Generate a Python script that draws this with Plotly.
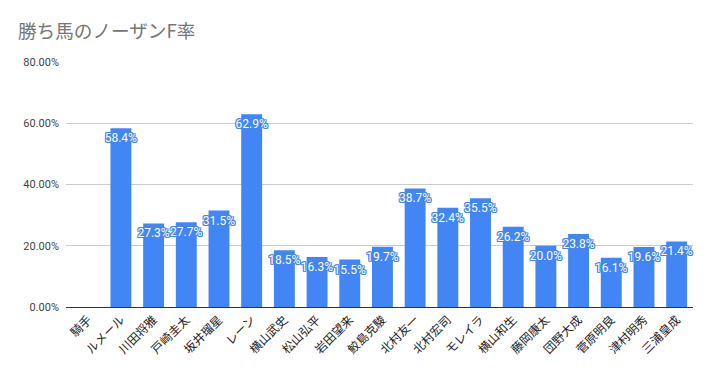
import plotly.graph_objects as go

jockeys = ["騎手", "ルメール", "川田将雅", "戸崎圭太", "坂井瑠星", "レーン", "横山武史", "松山弘平",
           "岩田望来", "鮫島克駿", "北村友一", "北村宏司", "モレイラ", "横山和生", "藤岡康太",
           "団野大成", "菅原明良", "津村明秀", "三浦皇成"]
rates = [None, 0.584, 0.273, 0.277, 0.315, 0.629, 0.185, 0.163, 0.155, 0.197, 0.387, 0.324,
         0.355, 0.262, 0.200, 0.238, 0.161, 0.196, 0.214]
y_ticks = [0, 0.2, 0.4, 0.6, 0.8]
title_text = "勝ち馬のノーザンF率"

blue = "#4285F4"
labels = ["" if v is None else f"{v*100:.1f}%" for v in rates]
shadow = ", ".join(f"{dx}px {dy}px 0 {blue}" for dx, dy in
                   [(1, 0), (-1, 0), (0, 1), (0, -1), (1, 1), (-1, -1), (1, -1), (-1, 1)])

fig = go.Figure(go.Bar(
    x=list(range(len(jockeys))), y=rates, marker=dict(color=blue, line=dict(width=0)),
    text=labels, textposition="inside", insidetextanchor="end", textangle=0,
    constraintext="none", cliponaxis=False,
    textfont=dict(color="white", size=12, family="Roboto", shadow=shadow),
))

# page body has an 8px default margin; compensate so the plot lands where the reference has it
fig.update_layout(
    width=712, height=371,
    margin=dict(l=58, r=27, t=54, b=72, autoexpand=False),
    paper_bgcolor="white", plot_bgcolor="white",
    title=dict(text=title_text, x=10 / 712, xanchor="left", xref="container",
               y=1 - 23 / 371, yanchor="middle", yref="container",
               font=dict(family="Noto Sans CJK JP", size=18.6, color="#757575")),
    bargap=0.36,
    showlegend=False,
    xaxis=dict(tickmode="array", tickvals=list(range(len(jockeys))), ticktext=jockeys,
               range=[-0.68, 18.5], tickangle=-45, automargin=False,
               tickfont=dict(family="Noto Sans CJK JP", size=12, color="#222222"),
               showgrid=False, showline=True, linecolor="#333333", linewidth=1, ticks=""),
    yaxis=dict(range=[0, 0.8], tickvals=y_ticks, tickformat=".2%", automargin=False,
               tickfont=dict(family="Roboto", size=11, color="#444444"),
               gridcolor="#cccccc", zeroline=False, showline=False, ticks="",
               ticklabelstandoff=6),
)

fig.write_html("out.html")
